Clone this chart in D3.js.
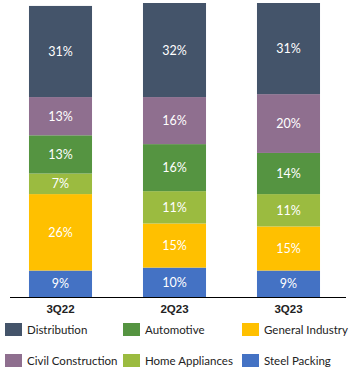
<!DOCTYPE html>
<html>
<head>
<meta charset="utf-8">
<script src="https://cdn.jsdelivr.net/npm/d3@7"></script>
<style>
  body { margin: 0; background: #fff; font-family: Lato, "Open Sans", sans-serif; }
  .seg-label { fill: #fff; font-size: 12.5px; }
  .cat-label { font-size: 11.5px; font-weight: bold; fill: #222; }
  .leg-label { font-size: 11.5px; fill: #222; }
</style>
</head>
<body>
<div id="chart"></div>
<script>
// segment shares by quarter (bottom to top in stack order)
const quarters = ["3Q22", "2Q23", "3Q23"];
const segments = ["Steel Packing", "General Industry", "Home Appliances", "Automotive", "Civil Construction", "Distribution"];
const steelPacking = [9, 10, 9];
const generalIndustry = [26, 15, 15];
const homeAppliances = [7, 11, 11];
const automotive = [13, 16, 14];
const civilConstruction = [13, 16, 20];
const distribution = [31, 32, 31];
const legendOrder = ["Distribution", "Automotive", "General Industry", "Civil Construction", "Home Appliances", "Steel Packing"];

const colors = {
  "Steel Packing": "#4472C4",
  "General Industry": "#FFC000",
  "Home Appliances": "#9BBB40",
  "Automotive": "#559441",
  "Civil Construction": "#8F6F8F",
  "Distribution": "#44546A"
};

const width = 354, height = 373;
const baseY = 297, topY = 3;

const rows = quarters.map((q, i) => ({
  quarter: q,
  "Steel Packing": steelPacking[i],
  "General Industry": generalIndustry[i],
  "Home Appliances": homeAppliances[i],
  "Automotive": automotive[i],
  "Civil Construction": civilConstruction[i],
  "Distribution": distribution[i]
}));

const svg = d3.select("#chart").append("svg")
  .attr("width", width)
  .attr("height", height);

const x = d3.scaleBand().domain(quarters).range([3.5, 345.5]).paddingInner(0.447).paddingOuter(0.2235);
const y = d3.scaleLinear().domain([0, 100]).range([baseY, topY]);

const stacked = d3.stack().keys(segments)(rows);

const layers = svg.selectAll("g.layer")
  .data(stacked)
  .join("g")
  .attr("class", "layer")
  .attr("fill", d => colors[d.key]);

layers.selectAll("rect")
  .data(d => d)
  .join("rect")
  .attr("x", d => x(d.data.quarter))
  .attr("width", x.bandwidth())
  .attr("y", d => y(d[1]))
  .attr("height", d => y(d[0]) - y(d[1]));

layers.selectAll("text")
  .data(d => d)
  .join("text")
  .attr("class", "seg-label")
  .attr("text-anchor", "middle")
  .attr("dominant-baseline", "central")
  .attr("x", d => x(d.data.quarter) + x.bandwidth() / 2)
  .attr("y", d => (y(d[0]) + y(d[1])) / 2)
  .text(d => (d[1] - d[0]) + "%");

// baseline axis
const xAxis = svg.append("g").attr("transform", `translate(0,${baseY})`)
  .call(d3.axisBottom(x).tickSize(0).tickPadding(8));
xAxis.select(".domain").attr("stroke", "#000").attr("d", "M10,0.5H346");
xAxis.selectAll("text").attr("class", "cat-label").attr("font-family", null).attr("font-size", null).attr("fill", null);

// legend
const legend = svg.append("g");
const colX = [5, 123, 242];
const rowY = [329, 360];
legendOrder.forEach((name, i) => {
  const g = legend.append("g")
    .attr("transform", `translate(${colX[i % 3]},${rowY[Math.floor(i / 3)]})`);
  g.append("rect").attr("x", 0).attr("y", -6).attr("width", 17).attr("height", 13).attr("fill", colors[name]);
  g.append("text").attr("class", "leg-label").attr("x", 22).attr("y", 0)
    .attr("dominant-baseline", "central").text(name);
});
</script>
</body>
</html>
